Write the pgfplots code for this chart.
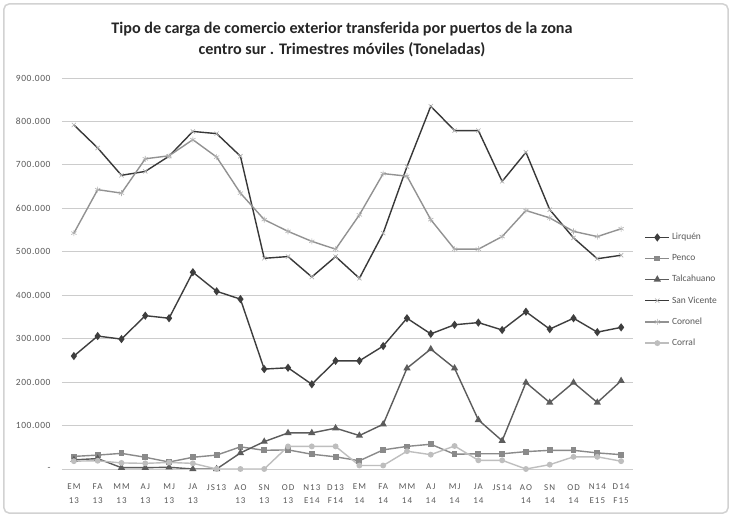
\documentclass[border=0pt]{standalone}
\usepackage{pgfplots}
\pgfplotsset{compat=1.18}
\usepackage{fontspec}
\setmainfont{Carlito}
\definecolor{cLir}{HTML}{3E3E3E}
\definecolor{cPen}{HTML}{8A8A8A}
\definecolor{cTal}{HTML}{5C5C5C}
\definecolor{cSV}{HTML}{383838}
\definecolor{cCor}{HTML}{929292}
\definecolor{cCrr}{HTML}{BEBEBE}
\begin{document}
\begin{tikzpicture}
\path[use as bounding box] (-62bp,-48bp) rectangle (671bp,469bp);
\fill[white] (-62bp,-48bp) rectangle (671bp,469bp);
\draw[gray!35, line width=1.5bp, rounded corners=5bp] (-58bp,-44bp) rectangle (666bp,465bp);
\begin{axis}[
  at={(0,0)}, anchor=south west,
  scale only axis, width=571bp, height=391bp,
  xmin=-0.5, xmax=23.5, ymin=0, ymax=900,
  ytick={0,100,200,300,400,500,600,700,800,900},
  yticklabels={-,100.000,200.000,300.000,400.000,500.000,600.000,700.000,800.000,900.000},
  xtick={0,...,23},
  xticklabels={{EM\\13},{FA\\13},{MM\\13},{AJ\\13},{MJ\\13},{JA\\13},{JS13},{AO\\13},{SN\\13},{OD\\13},{N13\\E14},{D13\\F14},{EM\\14},{FA\\14},{MM\\14},{AJ\\14},{MJ\\14},{JA\\14},{JS14},{AO\\14},{SN\\14},{OD\\14},{N14\\E15},{D14\\F15}},
  xticklabel style={align=center, font=\fontsize{9}{14}\selectfont\addfontfeatures{LetterSpace=12}, text=black!65, inner sep=0pt, yshift=-15bp},
  yticklabel style={font=\fontsize{9.5}{11}\selectfont\addfontfeatures{LetterSpace=6}, text=black!65, xshift=-8bp},
  major tick length=0pt,
  axis line style={draw=none},
  ymajorgrids, grid style={gray!40, line width=0.8bp},
  legend style={at={(1.02,0.608)}, anchor=north west, draw=none, fill=none,
    font=\fontsize{9.5}{11}\selectfont, text=black!65, row sep=9.2bp, inner sep=0pt},
  legend cell align=left,
  legend image code/.code={\draw[mark repeat=2,mark phase=2] plot coordinates {(0bp,0bp)(12bp,0bp)(24bp,0bp)};},
  every axis plot/.append style={line width=1.4bp, mark size=2.2bp},
]
\addplot[cLir, mark=diamond*, mark size=3bp] coordinates {
(0,260)(1,306)(2,299)(3,353)(4,347)(5,453)(6,409)(7,391)(8,230)(9,233)(10,195)(11,249)(12,249)(13,283)(14,347)(15,311)(16,332)(17,337)(18,320)(19,362)(20,322)(21,347)(22,315)(23,326)};
\addlegendentry{Lirquén}
\addplot[cPen, mark=square*] coordinates {
(0,29)(1,32)(2,36)(3,27)(4,16)(5,27)(6,32)(7,51)(8,43)(9,44)(10,34)(11,28)(12,19)(13,44)(14,52)(15,57)(16,34)(17,35)(18,35)(19,40)(20,43)(21,43)(22,37)(23,33)};
\addlegendentry{Penco}
\addplot[cTal, mark=triangle*, mark size=2.8bp] coordinates {
(0,21)(1,24)(2,3)(3,3)(4,4)(5,0)(6,0)(7,37)(8,63)(9,83)(10,83)(11,94)(12,77)(13,103)(14,232)(15,276)(16,232)(17,113)(18,65)(19,199)(20,153)(21,199)(22,153)(23,203)};
\addlegendentry{Talcahuano}
\addplot[cSV, mark=x, mark size=3bp, mark options={line width=0.6bp, draw=gray!60}] coordinates {
(0,792)(1,739)(2,676)(3,685)(4,720)(5,777)(6,772)(7,720)(8,485)(9,489)(10,442)(11,489)(12,439)(13,543)(14,696)(15,835)(16,779)(17,779)(18,662)(19,729)(20,597)(21,532)(22,484)(23,492)};
\addlegendentry{San Vicente}
\addplot[cCor, mark=asterisk, mark size=3bp, mark options={line width=0.6bp, draw=gray!60}] coordinates {
(0,543)(1,643)(2,635)(3,714)(4,721)(5,758)(6,718)(7,635)(8,574)(9,547)(10,524)(11,506)(12,585)(13,680)(14,674)(15,574)(16,506)(17,506)(18,535)(19,595)(20,578)(21,547)(22,535)(23,553)};
\addlegendentry{Coronel}
\addplot[cCrr, mark=*] coordinates {
(0,18)(1,19)(2,14)(3,13)(4,15)(5,13)(6,0)(7,0)(8,0)(9,52)(10,52)(11,52)(12,8)(13,8)(14,41)(15,33)(16,53)(17,20)(18,20)(19,0)(20,10)(21,28)(22,28)(23,18)};
\addlegendentry{Corral}
\end{axis}
\node[font=\bfseries\fontsize{16.2}{21}\selectfont, align=center, text=black!85] at (280bp,429bp) {Tipo de carga de comercio exterior transferida por puertos de la zona\\centro sur . Trimestres móviles (Toneladas)};
\end{tikzpicture}
\end{document}
